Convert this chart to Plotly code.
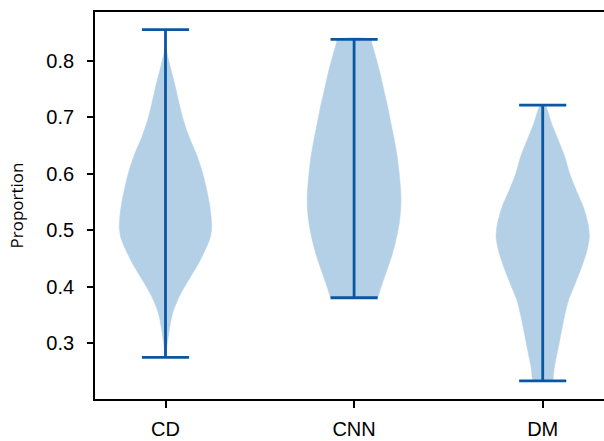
import plotly.graph_objects as go

# ---- data ----
categories = ["CD", "CNN", "DM"]
positions = [1, 2, 3]
mins = [0.2752, 0.3807, 0.2335]
maxs = [0.8556, 0.8384, 0.7219]

# violin outlines: value levels and relative half-widths (1 = widest)
cd_levels = [0.2752, 0.294, 0.3235, 0.353, 0.3824, 0.412, 0.4415, 0.4705, 0.488, 0.505, 0.522,
             0.548, 0.577, 0.6066, 0.636, 0.6655, 0.695, 0.7246, 0.754, 0.7835, 0.800,
             0.815, 0.835, 0.8556]
cd_width = [0.01, 0.03, 0.08, 0.15, 0.29, 0.49, 0.70, 0.87, 0.95, 0.98, 0.97,
            0.93, 0.86, 0.77, 0.65, 0.50, 0.38, 0.29, 0.21, 0.12, 0.07,
            0.03, 0.01, 0.0]

cnn_levels = [0.3807, 0.3913, 0.421, 0.450, 0.480, 0.509, 0.5389, 0.568, 0.598, 0.627,
              0.657, 0.686, 0.716, 0.745, 0.775, 0.804, 0.8336, 0.8384]
cnn_width = [0.50, 0.54, 0.66, 0.78, 0.88, 0.95, 0.99, 0.99, 0.96, 0.92,
             0.86, 0.79, 0.72, 0.64, 0.56, 0.47, 0.37, 0.36]

dm_levels = [0.2335, 0.238, 0.259, 0.288, 0.318, 0.347, 0.377, 0.406, 0.436, 0.465,
             0.489, 0.512, 0.542, 0.571, 0.601, 0.630, 0.660, 0.689, 0.7128, 0.7219]
dm_width = [0.21, 0.22, 0.25, 0.32, 0.39, 0.46, 0.55, 0.69, 0.83, 0.94,
            0.99, 0.96, 0.86, 0.71, 0.57, 0.47, 0.33, 0.19, 0.10, 0.05]

y_ticks = [0.3, 0.4, 0.5, 0.6, 0.7, 0.8]
y_label = "Proportion"

# ---- styling ----
HALF = 0.25      # half of violin width (widths=0.5)
CAP = 0.125      # half cap length
FILL = "#b4d0e7"
LINE = "#0b56a2"

fig = go.Figure()
profiles = [(cd_levels, cd_width), (cnn_levels, cnn_width), (dm_levels, dm_width)]
for pos, (lev, wid) in zip(positions, profiles):
    xs = [pos + HALF * w for w in wid] + [pos - HALF * w for w in wid[::-1]]
    ys = list(lev) + list(lev[::-1])
    fig.add_trace(go.Scatter(x=xs, y=ys, mode="lines", fill="toself",
                             fillcolor=FILL, line=dict(color=FILL, width=0.5, shape="spline", smoothing=0.8),
                             hoverinfo="skip", showlegend=False))

for pos, lo, hi in zip(positions, mins, maxs):
    fig.add_trace(go.Scatter(x=[pos, pos], y=[lo, hi], mode="lines",
                             line=dict(color=LINE, width=2.8), showlegend=False))
    for v in (lo, hi):
        fig.add_trace(go.Scatter(x=[pos - CAP, pos + CAP], y=[v, v], mode="lines",
                                 line=dict(color=LINE, width=2.8), showlegend=False))

# figure is wider than the window so the right spine falls outside the view
fig.update_layout(
    width=700, height=441,
    margin=dict(l=95, r=0, t=12, b=42, autoexpand=False),
    paper_bgcolor="white", plot_bgcolor="white",
    font=dict(family="Liberation Sans, Arial, sans-serif", color="black"),
    showlegend=False,
)
fig.update_xaxes(range=[0.6262, 3.834], tickvals=positions, ticktext=categories,
                 showline=True, linecolor="black", linewidth=1.8, mirror=True,
                 ticks="outside", ticklen=7, tickwidth=1.8, tickcolor="black",
                 showgrid=False, zeroline=False, tickfont=dict(size=20),
                 automargin=False, ticklabelstandoff=4)
fig.update_yaxes(range=[0.2014, 0.8867], tickvals=y_ticks,
                 ticktext=[f"{t:.1f}" for t in y_ticks],
                 showline=True, linecolor="black", linewidth=1.8, mirror=False,
                 ticks="outside", ticklen=6, tickwidth=1.8, tickcolor="black",
                 showgrid=False, zeroline=False, tickfont=dict(size=20),
                 automargin=False, ticklabelstandoff=9,
                 title=dict(text=y_label, font=dict(size=17, family="Open Sans, sans-serif"), standoff=18))

fig.write_html("out.html", config={"displayModeBar": False},
               post_script="document.body.style.margin='0px';document.body.style.overflow='hidden';")
